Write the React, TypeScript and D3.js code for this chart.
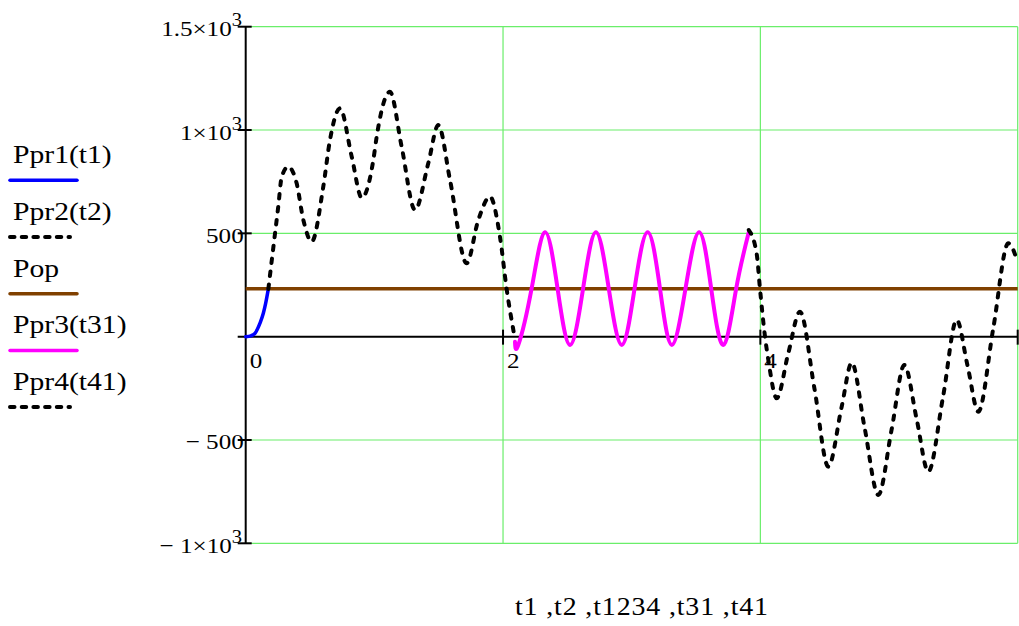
import React from "react";
import * as d3 from "d3";

const W = 1019;
const H = 626;

// Ppr1(t1): start-up ramp from zero to the operating level
const ppr1: [number, number][] = [
  [0, 0], [0.04, 4], [0.072, 16], [0.111, 65], [0.137, 113], [0.155, 161], [0.176, 231],
];

// Ppr2(t2): oscillating transient
const ppr2: [number, number][] = [
  [0.176, 231], [0.228, 500], [0.253, 629], [0.28, 774], [0.331, 822], [0.396, 742],
  [0.448, 565], [0.513, 460], [0.603, 726], [0.655, 952], [0.733, 1105], [0.824, 871],
  [0.902, 672], [0.992, 855], [1.018, 968], [1.121, 1185], [1.212, 919], [1.316, 613],
  [1.419, 839], [1.497, 1024], [1.588, 758], [1.717, 355], [1.808, 565], [1.899, 677],
  [1.976, 484], [2.028, 231], [2.085, 15],
];

// Pop: constant operating level
const popValue = 232;

// Ppr3(t31): steady oscillation around Pop
const ppr3: [number, number][] = [
  [2.093, -25], [2.119, -40], [2.222, 232], [2.326, 505], [2.424, 232], [2.521, -40],
  [2.622, 232], [2.722, 505], [2.822, 232], [2.923, -40], [3.022, 232], [3.124, 505],
  [3.22, 232], [3.312, -40], [3.418, 232], [3.524, 505], [3.618, 232], [3.713, -40],
  [3.812, 232], [3.91, 505],
];

// Ppr4(t41): oscillating run-down
const ppr4: [number, number][] = [
  [3.91, 516], [3.971, 403], [3.997, 232], [4.036, 0], [4.062, -113], [4.127, -298],
  [4.217, -80], [4.308, 121], [4.42, -250], [4.528, -629], [4.632, -339], [4.71, -126],
  [4.81, -440], [4.917, -766], [5.02, -450], [5.119, -137], [5.215, -400], [5.305, -653],
  [5.42, -290], [5.526, 81], [5.61, -140], [5.694, -363], [5.81, 40], [5.927, 452],
  [6.0, 360],
];

const yTickValues = [1500, 1000, 500, -500, -1000];
const yTickMantissa = ["1.5×10", "1×10", "500", "− 500", "− 1×10"];
const yTickExponent = ["3", "3", "", "", "3"];
const xGridValues = [2, 4, 6];
const xTickValues = [0, 2, 4];
const xTickLabels = ["0", "2", "4"];
const legendLabels = ["Ppr1(t1)", "Ppr2(t2)", "Pop", "Ppr3(t31)", "Ppr4(t41)"];
const xAxisTitle = "t1 ,t2 ,t1234 ,t31 ,t41";

const FONT = "'Liberation Serif', 'Times New Roman', serif";
const STRETCH = "scale(1.14,1)";
const GRID = "#6aee6a";
const BROWN = "#804000";
const DASH = "4.5 8.5";

export default function App() {
  const x = d3.scaleLinear().domain([0, 6]).range([245.7, 1017.7]);
  const y = d3.scaleLinear().domain([-1000, 1500]).range([543.3, 26.7]);

  const smooth = d3
    .line<[number, number]>()
    .x((d) => x(d[0]))
    .y((d) => y(d[1]))
    .curve(d3.curveMonotoneX);
  const wave = d3
    .line<[number, number]>()
    .x((d) => x(d[0]))
    .y((d) => y(d[1]))
    .curve(d3.curveNatural);

  const x0 = x(0);
  const y0 = y(0);
  const xMax = x.range()[1];
  const yTop = y(1500);
  const yBot = y(-1000);

  const legendStyles = [
    { stroke: "#0000ff", dash: undefined },
    { stroke: "#000000", dash: "4.5 7.2" },
    { stroke: BROWN, dash: undefined },
    { stroke: "#ff00ff", dash: undefined },
    { stroke: "#000000", dash: "4.5 7.2" },
  ];

  return (
    <svg
      width={W}
      height={H}
      viewBox={`0 0 ${W} ${H}`}
      style={{ position: "absolute", left: 0, top: 0, display: "block", background: "#fff" }}
      fontFamily={FONT}
    >
      <rect width={W} height={H} fill="#fff" />

      {/* grid */}
      {yTickValues.map((v) => (
        <line key={"gy" + v} x1={x0} x2={xMax} y1={y(v)} y2={y(v)} stroke={GRID} strokeWidth={1.2} />
      ))}
      {xGridValues.map((v) => (
        <line key={"gx" + v} x1={x(v)} x2={x(v)} y1={yTop} y2={yBot} stroke={GRID} strokeWidth={1.2} />
      ))}

      {/* axes */}
      <line x1={x0} x2={x0} y1={yTop} y2={yBot} stroke="#000" strokeWidth={2} />
      <line x1={x0 - 8} x2={xMax} y1={y0} y2={y0} stroke="#000" strokeWidth={2} />
      {yTickValues.map((v) => (
        <line key={"ty" + v} x1={x0 - 8} x2={x0 + 6} y1={y(v)} y2={y(v)} stroke="#000" strokeWidth={2} />
      ))}
      {xGridValues.map((v) => (
        <line key={"tx" + v} x1={x(v)} x2={x(v)} y1={y0 - 7} y2={y0 + 8} stroke="#000" strokeWidth={2} />
      ))}

      {/* y tick labels */}
      {yTickValues.map((v, i) => {
        const hasExp = yTickExponent[i] !== "";
        const endX = hasExp ? x0 - 14 : x0 - 2;
        return (
          <g key={"ly" + v}>
            <text
              transform={`translate(${endX},${y(v) + 9.5}) ${STRETCH}`}
              textAnchor="end"
              fontSize={22}
              fill="#000"
            >
              {yTickMantissa[i]}
            </text>
            {hasExp && (
              <text
                transform={`translate(${endX},${y(v) - 0.5}) ${STRETCH}`}
                textAnchor="start"
                fontSize={18}
                fill="#000"
              >
                {yTickExponent[i]}
              </text>
            )}
          </g>
        );
      })}

      {/* x tick labels */}
      {xTickValues.map((v, i) => (
        <text
          key={"lx" + v}
          transform={`translate(${x(v) + 4},${y0 + 31}) ${STRETCH}`}
          fontSize={22}
          fill="#000"
        >
          {xTickLabels[i]}
        </text>
      ))}

      {/* series */}
      <line x1={x0} x2={xMax} y1={y(popValue)} y2={y(popValue)} stroke={BROWN} strokeWidth={3.5} />
      <path d={smooth(ppr1) ?? ""} fill="none" stroke="#0000ff" strokeWidth={3.5} strokeLinecap="round" />
      <path
        d={smooth(ppr2) ?? ""}
        fill="none"
        stroke="#000"
        strokeWidth={4}
        strokeDasharray={DASH}
        strokeLinecap="round"
      />
      <path d={wave(ppr3) ?? ""} fill="none" stroke="#ff00ff" strokeWidth={4} strokeLinecap="round" />
      <path
        d={smooth(ppr4) ?? ""}
        fill="none"
        stroke="#000"
        strokeWidth={4}
        strokeDasharray={DASH}
        strokeLinecap="round"
      />

      {/* legend */}
      {legendLabels.map((label, i) => {
        const ty = 163.3 + i * 56.7;
        const ly = ty + 17;
        const st = legendStyles[i];
        return (
          <g key={label}>
            <text transform={`translate(13,${ty}) ${STRETCH}`} fontSize={26} fill="#000">
              {label}
            </text>
            <line
              x1={10}
              x2={st.dash ? 70 : 77}
              y1={ly}
              y2={ly}
              stroke={st.stroke}
              strokeWidth={st.dash ? 4 : 3.5}
              strokeLinecap="round"
              strokeDasharray={st.dash}
            />
          </g>
        );
      })}

      {/* x axis title */}
      <text
        transform={`translate(515,615) ${STRETCH}`}
        fontSize={24.5}
        fill="#000"
        textLength={222}
        lengthAdjust="spacing"
      >
        {xAxisTitle}
      </text>
    </svg>
  );
}
